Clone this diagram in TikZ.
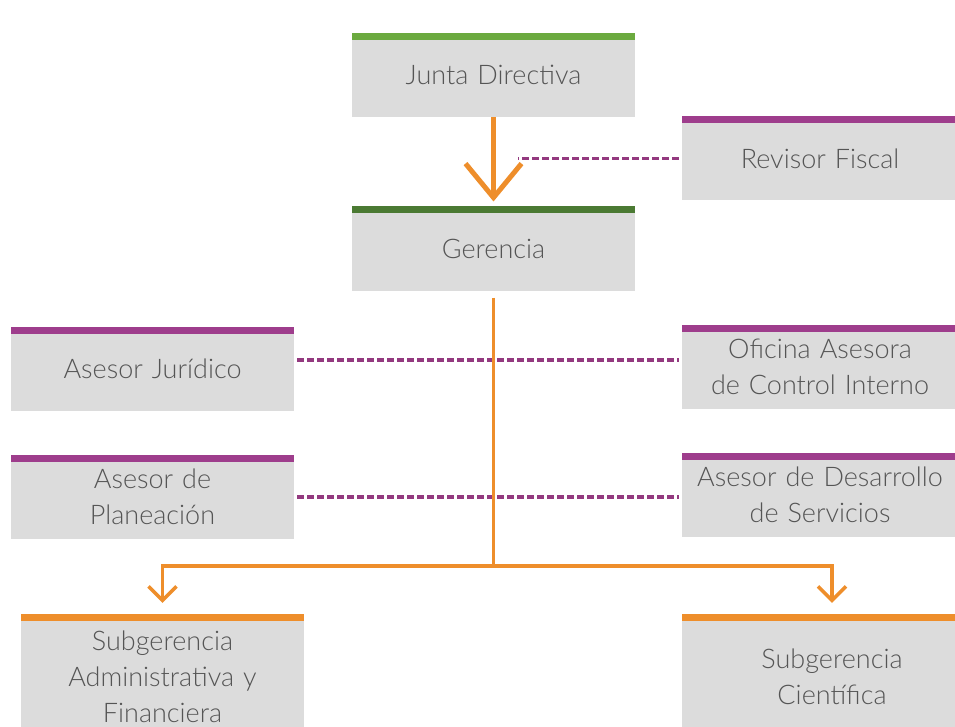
\documentclass[tikz,border=0pt]{standalone}
\usepackage{fontspec}
\setmainfont{Lato Light}
\usepackage{tikz}
\usetikzlibrary{arrows.meta,positioning}
\definecolor{gris}{HTML}{DCDCDC}
\definecolor{letra}{HTML}{555555}
\definecolor{verde}{HTML}{6BAA3F}
\definecolor{verdeosc}{HTML}{4B7A33}
\definecolor{morado}{HTML}{9E3D8C}
\definecolor{moradoosc}{HTML}{93397F}
\definecolor{naranja}{HTML}{EE8E2B}
\tikzstyle{cargo}=[fill=gris, text=letra, inner xsep=0pt, inner ysep=0pt,
  text width=283pt, align=center, minimum height=84pt,
  font=\fontsize{27}{36}\selectfont]
\tikzstyle{asesor}=[cargo, text width=276pt]
\tikzstyle{linepart}=[draw, color=moradoosc, line width=3.5pt,
  dash pattern=on 7pt off 3pt, shorten <=3pt, shorten >=3pt]
\tikzstyle{line}=[draw, color=naranja, line width=5pt,
  -{Straight Barb[length=34pt,width=56pt]}, shorten >=5pt]
\tikzstyle{linea}=[draw, color=naranja, line width=3.5pt,
  -{Straight Barb[length=14pt,width=28pt]}, shorten <=7pt, shorten >=11pt]
\newcommand{\cargo}[3]{node (p#1) [#2] {#3}}
\newcommand{\franja}[2]{%
  \fill[#2] (p#1.north west) rectangle ([yshift=-7pt]p#1.north east);}

\begin{document}
\begin{tikzpicture}[x=1pt,y=-1pt]
\useasboundingbox (0,0) rectangle (955,727);

  % Draw diagram elements
\path (493.5,75) \cargo{1}{cargo}{Junta Directiva};
\path (p1.south)+(0,131.5) \cargo{2}{cargo}{Gerencia};
\path (820,158.5) \cargo{3}{asesor}{Revisor Fiscal};

\path (152.5,369) \cargo{4}{cargo}{Asesor Jurídico};
\path (p4.south)+(0,86) \cargo{5}{cargo}{Asesor de\\Planeación};
\path (820,367) \cargo{6}{asesor}{Oficina Asesora\\de Control Interno};
\path (p6.south)+(0,85.5) \cargo{7}{asesor}{Asesor de Desarrollo\\de Servicios};

\path (162.5,677) \cargo{8}{cargo, minimum height=126pt}{Subgerencia\\Administrativa y\\Financiera};
\path (832,677) \cargo{9}{cargo, text width=300pt, minimum height=126pt}{Subgerencia\\Científica};

\franja{1}{verde}
\franja{2}{verdeosc}
\franja{3}{morado}
\franja{4}{morado}
\franja{5}{morado}
\franja{6}{morado}
\franja{7}{morado}
\franja{8}{naranja}
\franja{9}{naranja}

  % Draw arrows between elements
\path [linepart] (p3.west) -- ([xshift=21pt]p1.south |- p3.west);
\path [linepart] ([yshift=9pt]p4.east) -- ([yshift=9pt]p4.east -| p6.west);
\path [linepart] (p5.east) -- (p5.east -| p7.west);

\path [line] (p1.south) -- (p2.north);
\path [linea] (p2.south) -- +(0,275) -| (p8.north);
\path [linea] (p2.south) -- +(0,275) -| (p9.north);
\end{tikzpicture}
\end{document}
